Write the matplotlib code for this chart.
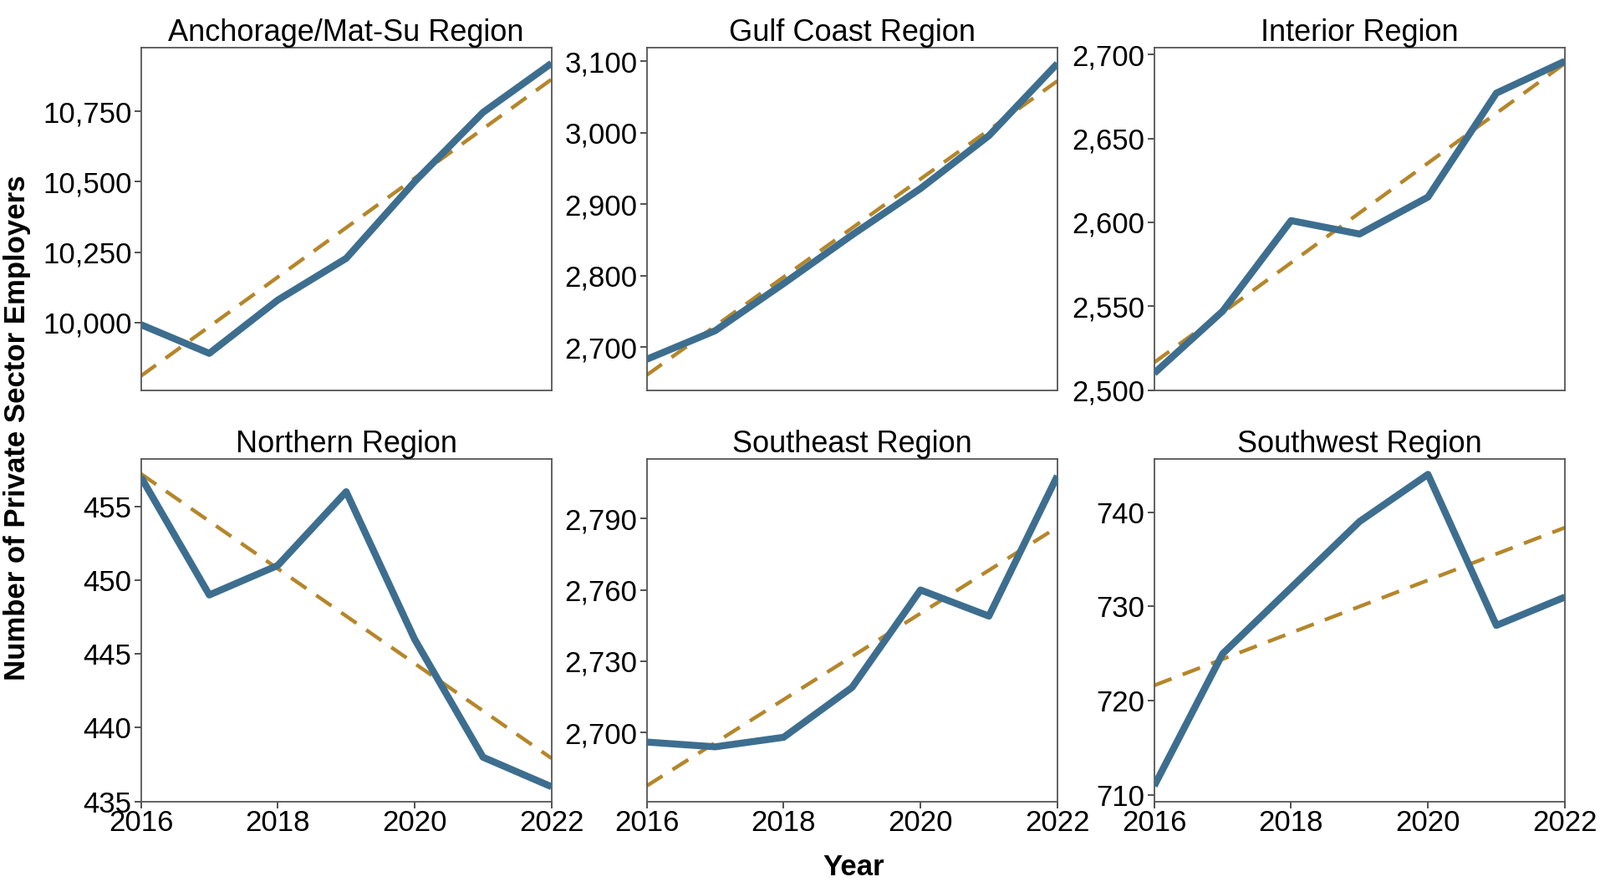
import numpy as np
import matplotlib
matplotlib.use('Agg')
import matplotlib.pyplot as plt
from matplotlib.ticker import FuncFormatter

plt.rcParams['font.family'] = ['Liberation Sans', 'DejaVu Sans']

years = [2016, 2017, 2018, 2019, 2020, 2021, 2022]

regions = ['Anchorage/Mat-Su Region', 'Gulf Coast Region', 'Interior Region',
           'Northern Region', 'Southeast Region', 'Southwest Region']

anchorage = [9993, 9891, 10080, 10228, 10500, 10746, 10920]
gulf_coast = [2683, 2723, 2789, 2857, 2922, 2996, 3097]
interior = [2510, 2547, 2601, 2593, 2615, 2677, 2696]
northern = [457, 449, 451, 456, 446, 438, 436]
southeast = [2696, 2694, 2698, 2719, 2760, 2749, 2808]
southwest = [711, 725, 732, 739, 744, 728, 731]

series = [anchorage, gulf_coast, interior, northern, southeast, southwest]

y_ticks = [
    [10000, 10250, 10500, 10750],
    [2700, 2800, 2900, 3000, 3100],
    [2500, 2550, 2600, 2650, 2700],
    [435, 440, 445, 450, 455],
    [2700, 2730, 2760, 2790],
    [710, 720, 730, 740],
]
y_lims = [(9761, 10975), (2640, 3119), (2500, 2704),
          (435, 458.2), (2671, 2815), (709.35, 745.6)]

blue = '#3D6E8F'
gold = '#B5862A'

fig = plt.figure(figsize=(19.15, 10.55), dpi=100)

lefts = [0.088, 0.404, 0.721]
width = 0.2565
bottoms = [0.5578, 0.0913]
height = 0.388

fmt = FuncFormatter(lambda v, p: f'{int(round(v)):,}')

for i, (name, vals) in enumerate(zip(regions, series)):
    r, c = divmod(i, 3)
    ax = fig.add_axes([lefts[c], bottoms[r], width, height])
    x = np.array(years)
    y = np.array(vals)
    ax.plot(x, y, color=blue, lw=6, solid_capstyle='butt', zorder=3)
    # linear trend
    k, b = np.polyfit(x, y, 1)
    ax.plot(x, k * x + b, color=gold, lw=3.2, ls=(0, (5, 3.2)), zorder=2)
    ax.set_xlim(2016, 2022)
    ax.set_ylim(*y_lims[i])
    ax.set_yticks(y_ticks[i])
    ax.yaxis.set_major_formatter(fmt)
    ax.set_xticks([2016, 2018, 2020, 2022])
    if r == 0:
        ax.set_xticklabels([])
        ax.tick_params(axis='x', length=0)
    else:
        ax.tick_params(axis='x', length=6, width=1.2, colors='#333333',
                       labelcolor='black', labelsize=25, pad=1)
    ax.tick_params(axis='y', length=6, width=1.2, colors='#333333',
                   labelcolor='black', labelsize=25, pad=2)
    for s in ax.spines.values():
        s.set_color('#555555')
        s.set_linewidth(1.3)
    ax.set_title(name, fontsize=26, pad=6)

fig.text(0.002, 0.515, 'Number of Private Sector Employers', rotation=90,
         fontsize=25, fontweight='bold', ha='left', va='center')
fig.text(0.533, 0.017, 'Year', fontsize=25, fontweight='bold',
         ha='center', va='center')

fig.savefig('out.png', dpi=100, facecolor='white')
